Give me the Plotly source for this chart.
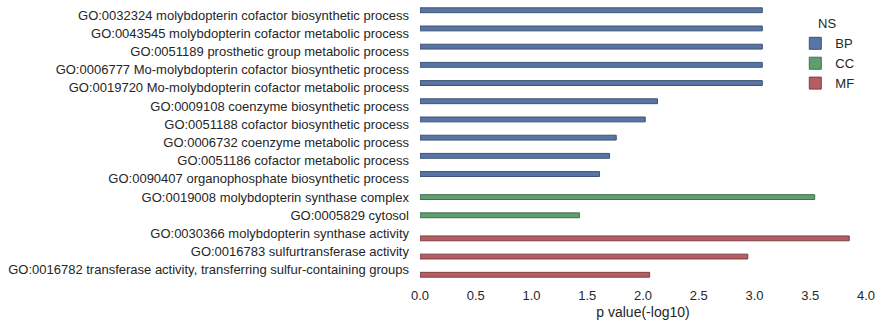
import plotly.graph_objects as go

categories = [
    "GO:0032324 molybdopterin cofactor biosynthetic process",
    "GO:0043545 molybdopterin cofactor metabolic process",
    "GO:0051189 prosthetic group metabolic process",
    "GO:0006777 Mo-molybdopterin cofactor biosynthetic process",
    "GO:0019720 Mo-molybdopterin cofactor metabolic process",
    "GO:0009108 coenzyme biosynthetic process",
    "GO:0051188 cofactor biosynthetic process",
    "GO:0006732 coenzyme metabolic process",
    "GO:0051186 cofactor metabolic process",
    "GO:0090407 organophosphate biosynthetic process",
    "GO:0019008 molybdopterin synthase complex",
    "GO:0005829 cytosol",
    "GO:0030366 molybdopterin synthase activity",
    "GO:0016783 sulfurtransferase activity",
    "GO:0016782 transferase activity, transferring sulfur-containing groups",
]
namespace = ["BP"] * 10 + ["CC"] * 2 + ["MF"] * 3
pvalues = [3.07, 3.07, 3.07, 3.07, 3.07, 2.13, 2.02, 1.76, 1.70, 1.61,
           3.54, 1.43, 3.85, 2.94, 2.06]
groups = ["BP", "CC", "MF"]
colors = {"BP": "#5875A4", "CC": "#5F9E6E", "MF": "#B55D60"}
edges = {"BP": "#3E5275", "CC": "#42704D", "MF": "#7F4143"}
x_ticks = [0.0, 0.5, 1.0, 1.5, 2.0, 2.5, 3.0, 3.5, 4.0]

fig = go.Figure()
for g in groups:
    xs = [v if ns == g else None for v, ns in zip(pvalues, namespace)]
    fig.add_trace(go.Bar(
        y=categories, x=xs, name=g, orientation="h",
        marker=dict(color=colors[g], line=dict(color=edges[g], width=1)),
    ))

font_family = "Liberation Sans, Arial, sans-serif"
fig.update_layout(
    width=882, height=328,
    margin=dict(l=420, r=16, t=6, b=49),
    paper_bgcolor="white", plot_bgcolor="white",
    barmode="group", bargap=0.2, bargroupgap=0,
    font=dict(family=font_family, size=13, color="#262626"),
    showlegend=True,
    legend=dict(
        title=dict(text="NS", side="top center", font=dict(size=13)),
        x=0.985, xanchor="right", y=0.98, yanchor="top",
        bgcolor="rgba(0,0,0,0)", font=dict(size=13),
        tracegroupgap=0, itemwidth=30,
    ),
    xaxis=dict(
        range=[0, 4.0], tickvals=x_ticks,
        ticktext=[f"{t:.1f}" for t in x_ticks],
        showgrid=False, zeroline=False, showline=False,
        ticks="", ticklabelstandoff=7,
        title=dict(text="p value(-log10)", standoff=5, font=dict(size=14)),
    ),
    yaxis=dict(
        categoryorder="array", categoryarray=categories,
        autorange="reversed", showgrid=False, zeroline=False,
        showline=False, ticks="", ticklabelstandoff=10,
    ),
)

fig.write_html("out.html")
